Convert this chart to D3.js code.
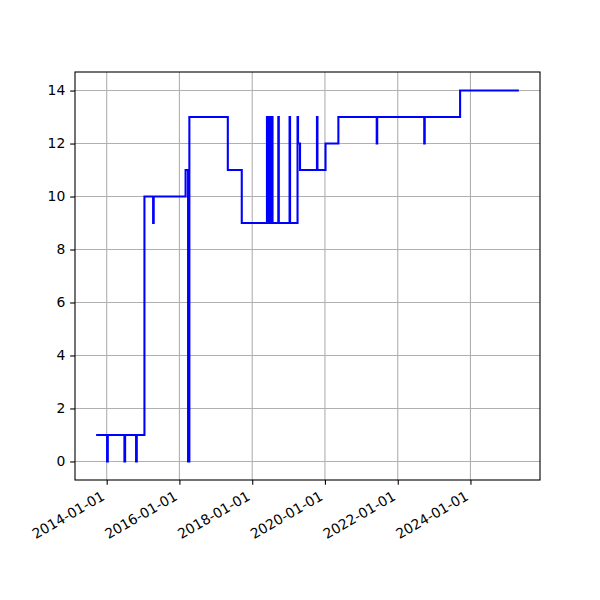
<!DOCTYPE html>
<html>
<head>
<meta charset="utf-8">
<script src="https://cdn.jsdelivr.net/npm/d3@7"></script>
<style>
  body { margin: 0; background: #fff; }
  svg { display: block; }
  text { font-family: "DejaVu Sans", sans-serif; }
</style>
</head>
<body>
<svg id="chart" width="600" height="600"></svg>
<script>
// ---- data (step-after series) ----
const dates = [
  "2013-09-17",
  "2014-01-05", "2014-01-12",
  "2014-06-28", "2014-07-05",
  "2014-10-23", "2014-10-30",
  "2015-01-15",
  "2015-04-12", "2015-04-18",
  "2016-03-03",
  "2016-03-28",
  "2016-04-10",
  "2017-05-01",
  "2017-09-18",
  "2018-05-29", "2018-06-02",
  "2018-06-08", "2018-06-12",
  "2018-06-18", "2018-06-22",
  "2018-06-28", "2018-07-02",
  "2018-07-08", "2018-07-12",
  "2018-07-20", "2018-07-24",
  "2018-09-20", "2018-09-25",
  "2019-01-11", "2019-01-16",
  "2019-04-01", "2019-04-06", "2019-04-26",
  "2019-10-13", "2019-10-18",
  "2020-01-07",
  "2020-05-15",
  "2021-06-04", "2021-06-09",
  "2022-09-24", "2022-09-29",
  "2023-09-19",
  "2025-05-01"
];
const values = [
  1,
  0, 1,
  0, 1,
  0, 1,
  10,
  9, 10,
  11,
  0,
  13,
  11,
  9,
  13, 9,
  13, 9,
  13, 9,
  13, 9,
  13, 9,
  13, 9,
  13, 9,
  13, 9,
  13, 12, 11,
  13, 11,
  12,
  13,
  12, 13,
  12, 13,
  14,
  14
];
const xTickLabels = ["2014-01-01", "2016-01-01", "2018-01-01", "2020-01-01", "2022-01-01", "2024-01-01"];
const yTicks = [0, 2, 4, 6, 8, 10, 12, 14];

// ---- layout ----
const L = 75, R = 540, T = 72, B = 480;
const fontPx = 13.9;
const parse = d3.utcParse("%Y-%m-%d");
const data = dates.map((d, i) => ({ date: parse(d), value: values[i] }));

const t0 = +data[0].date, t1 = +data[data.length - 1].date;
const padT = (t1 - t0) * 0.05;
const x = d3.scaleUtc().domain([new Date(t0 - padT), new Date(t1 + padT)]).range([L, R]);
const vmin = d3.min(values), vmax = d3.max(values);
const padV = (vmax - vmin) * 0.05;
const y = d3.scaleLinear().domain([vmin - padV, vmax + padV]).range([B, T]);

const svg = d3.select("#chart");

// grid
const xTickDates = xTickLabels.map(parse);
svg.append("g").selectAll("line").data(xTickDates).join("line")
  .attr("x1", d => x(d)).attr("x2", d => x(d))
  .attr("y1", T).attr("y2", B)
  .attr("stroke", "#b0b0b0").attr("stroke-width", 1.1);
svg.append("g").selectAll("line").data(yTicks).join("line")
  .attr("x1", L).attr("x2", R)
  .attr("y1", d => y(d)).attr("y2", d => y(d))
  .attr("stroke", "#b0b0b0").attr("stroke-width", 1.1);

// line
const line = d3.line()
  .x(d => x(d.date)).y(d => y(d.value))
  .curve(d3.curveStepAfter);
svg.append("path").datum(data)
  .attr("d", line)
  .attr("fill", "none")
  .attr("stroke", "#0000ff")
  .attr("stroke-width", 2.08)
  .attr("stroke-linejoin", "miter");

// frame
svg.append("rect").attr("x", L).attr("y", T).attr("width", R - L).attr("height", B - T)
  .attr("fill", "none").attr("stroke", "#000").attr("stroke-width", 1.1);

// x axis ticks + labels
const xAxis = d3.axisBottom(x).tickValues(xTickDates).tickSize(4.86).tickPadding(4.86)
  .tickFormat(d3.utcFormat("%Y-%m-%d"));
const gx = svg.append("g").attr("transform", `translate(0,${B})`).call(xAxis);
gx.select(".domain").remove();
gx.selectAll(".tick line").attr("stroke", "#000").attr("stroke-width", 1.1);
gx.selectAll(".tick text")
  .attr("font-size", fontPx).attr("font-family", "DejaVu Sans").attr("fill", "#000")
  .attr("text-anchor", "end")
  .attr("dy", null)
  .attr("y", null)
  .attr("transform", "translate(-1.6,19) rotate(-30)");

// y axis
const yAxis = d3.axisLeft(y).tickValues(yTicks).tickSize(4.86).tickPadding(4.86)
  .tickFormat(d3.format("d"));
const gy = svg.append("g").attr("transform", `translate(${L},0)`).call(yAxis);
gy.select(".domain").remove();
gy.selectAll(".tick line").attr("stroke", "#000").attr("stroke-width", 1.1);
gy.selectAll(".tick text")
  .attr("font-size", fontPx).attr("font-family", "DejaVu Sans").attr("fill", "#000");
</script>
</body>
</html>
